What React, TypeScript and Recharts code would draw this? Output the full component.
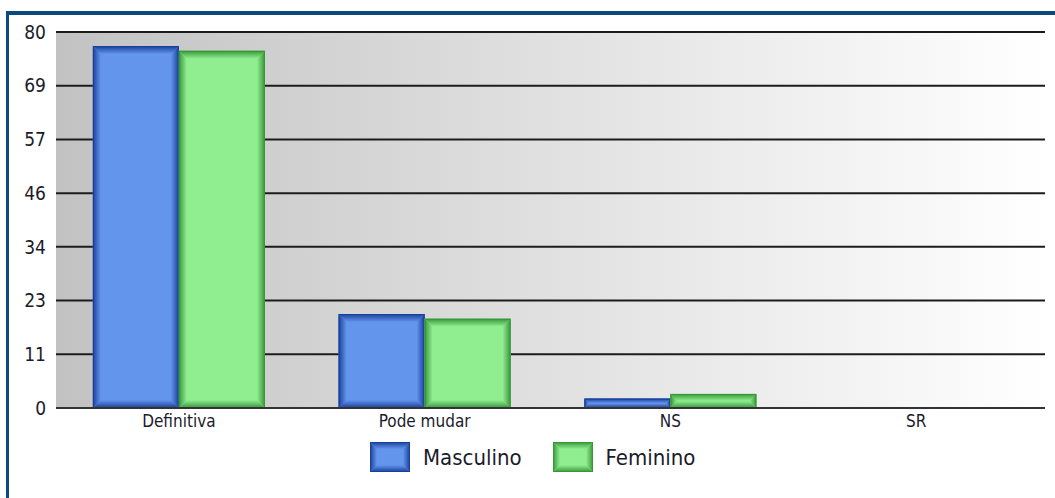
import React from "react";
import { BarChart, Bar, XAxis, YAxis, CartesianGrid } from "recharts";

// ─── DATA ──────────────────────────────────────────────────────────────────
const categories = ["Definitiva", "Pode mudar", "NS", "SR"];
const masculino = [77, 20, 2, 0];
const feminino = [76, 19, 3, 0];
const yTicks = [0, 11.43, 22.86, 34.29, 45.71, 57.14, 68.57, 80];

const series = [
  { key: "masculino", name: "Masculino", face: "#6495ED", edge: "#18409a" },
  { key: "feminino", name: "Feminino", face: "#90EE90", edge: "#379637" },
];

const data = categories.map((category, i) => ({
  category,
  masculino: masculino[i],
  feminino: feminino[i],
}));

const FONT = "'DejaVu Sans Condensed', 'Liberation Sans Narrow', 'DejaVu Sans', sans-serif";

// gradients for the bevelled "3d" look of the bars
const BevelDefs = ({ prefix }: { prefix: string }) => (
  <>
    {series.map((s) => (
      <React.Fragment key={s.key}>
        <linearGradient id={`${prefix}${s.key}-l`} x1="0" y1="0" x2="1" y2="0">
          <stop offset="0" stopColor={s.edge} />
          <stop offset="1" stopColor={s.face} />
        </linearGradient>
        <linearGradient id={`${prefix}${s.key}-r`} x1="1" y1="0" x2="0" y2="0">
          <stop offset="0" stopColor={s.edge} />
          <stop offset="1" stopColor={s.face} />
        </linearGradient>
        <linearGradient id={`${prefix}${s.key}-t`} x1="0" y1="0" x2="0" y2="1">
          <stop offset="0" stopColor={s.edge} />
          <stop offset="1" stopColor={s.face} />
        </linearGradient>
        <linearGradient id={`${prefix}${s.key}-b`} x1="0" y1="1" x2="0" y2="0">
          <stop offset="0" stopColor={s.edge} />
          <stop offset="1" stopColor={s.face} />
        </linearGradient>
      </React.Fragment>
    ))}
  </>
);

const BevelRect = ({ x, y, width, height, gid, face, edge, bevel = 8 }: any) => {
  if (!width || !height || height <= 0) return null;
  const b = Math.min(bevel, width / 2, height / 2);
  const x2 = x + width;
  const y2 = y + height;
  return (
    <g>
      <rect x={x} y={y} width={width} height={height} fill={face} />
      <polygon
        points={`${x},${y} ${x + b},${y + b} ${x + b},${y2 - b} ${x},${y2}`}
        fill={`url(#${gid}-l)`}
      />
      <polygon
        points={`${x2},${y} ${x2 - b},${y + b} ${x2 - b},${y2 - b} ${x2},${y2}`}
        fill={`url(#${gid}-r)`}
      />
      <polygon
        points={`${x},${y} ${x2},${y} ${x2 - b},${y + b} ${x + b},${y + b}`}
        fill={`url(#${gid}-t)`}
      />
      <polygon
        points={`${x},${y2} ${x2},${y2} ${x2 - b},${y2 - b} ${x + b},${y2 - b}`}
        fill={`url(#${gid}-b)`}
      />
      <rect
        x={x + 0.5}
        y={y + 0.5}
        width={Math.max(width - 1, 0)}
        height={Math.max(height - 1, 0)}
        fill="none"
        stroke={edge}
        strokeWidth={1}
      />
    </g>
  );
};

export default function App() {
  return (
    <div
      style={{
        position: "absolute",
        left: 0,
        top: 0,
        width: 1055,
        height: 498,
        overflow: "hidden",
        background: "#fff",
      }}
    >
      {/* dark blue frame */}
      <div
        style={{
          position: "absolute",
          left: 6,
          top: 11,
          width: 1200,
          height: 600,
          borderLeft: "3px solid #0c4a7e",
          borderTop: "4px solid #0c4a7e",
        }}
      />

      <div style={{ position: "absolute", left: 0, top: 0 }}>
        <BarChart
          width={1055}
          height={498}
          data={data}
          margin={{ top: 32, right: 10, left: 9, bottom: 60 }}
          barCategoryGap="15%"
          barGap={0}
        >
          <defs>
            <linearGradient id="plotBg" x1="0" y1="0" x2="1" y2="0">
              <stop offset="0" stopColor="#c2c2c2" />
              <stop offset="1" stopColor="#ffffff" />
            </linearGradient>
            <BevelDefs prefix="bar-" />
          </defs>
          <CartesianGrid
            vertical={false}
            fill="url(#plotBg)"
            fillOpacity={1}
            stroke="#1c1c1c"
            strokeWidth={2}
          />
          <XAxis
            dataKey="category"
            height={30}
            padding={{ left: 0, right: 6 }}
            tickLine={false}
            axisLine={{ stroke: "#333", strokeWidth: 2 }}
            tick={{ fontFamily: FONT, fontSize: 17, fill: "#1b1b2b" }}
            tickMargin={1}
          />
          <YAxis
            width={47}
            domain={[0, 80]}
            ticks={yTicks}
            interval={0}
            tickFormatter={(v: number) => String(Math.round(v))}
            axisLine={false}
            tickLine={false}
            tickMargin={4}
            tick={{ fontFamily: FONT, fontSize: 19, fill: "#1b1b2b" }}
          />
          {series.map((s) => (
            <Bar
              key={s.key}
              dataKey={s.key}
              name={s.name}
              fill={s.face}
              isAnimationActive={false}
              shape={(props: any) => (
                <BevelRect {...props} gid={`bar-${s.key}`} face={s.face} edge={s.edge} />
              )}
            />
          ))}
        </BarChart>
      </div>

      {/* legend */}
      <div
        style={{
          position: "absolute",
          left: 370,
          top: 442,
          display: "flex",
          fontFamily: FONT,
          fontSize: 22,
          color: "#1b1b2b",
        }}
      >
        {series.map((s) => (
          <div
            key={s.key}
            style={{ display: "flex", alignItems: "center", marginRight: 31 }}
          >
            <svg width={40} height={30} style={{ display: "block" }}>
              <defs>
                <BevelDefs prefix="leg-" />
              </defs>
              <BevelRect
                x={0}
                y={0}
                width={40}
                height={30}
                bevel={7}
                gid={`leg-${s.key}`}
                face={s.face}
                edge={s.edge}
              />
            </svg>
            <span style={{ marginLeft: 13 }}>{s.name}</span>
          </div>
        ))}
      </div>
    </div>
  );
}
